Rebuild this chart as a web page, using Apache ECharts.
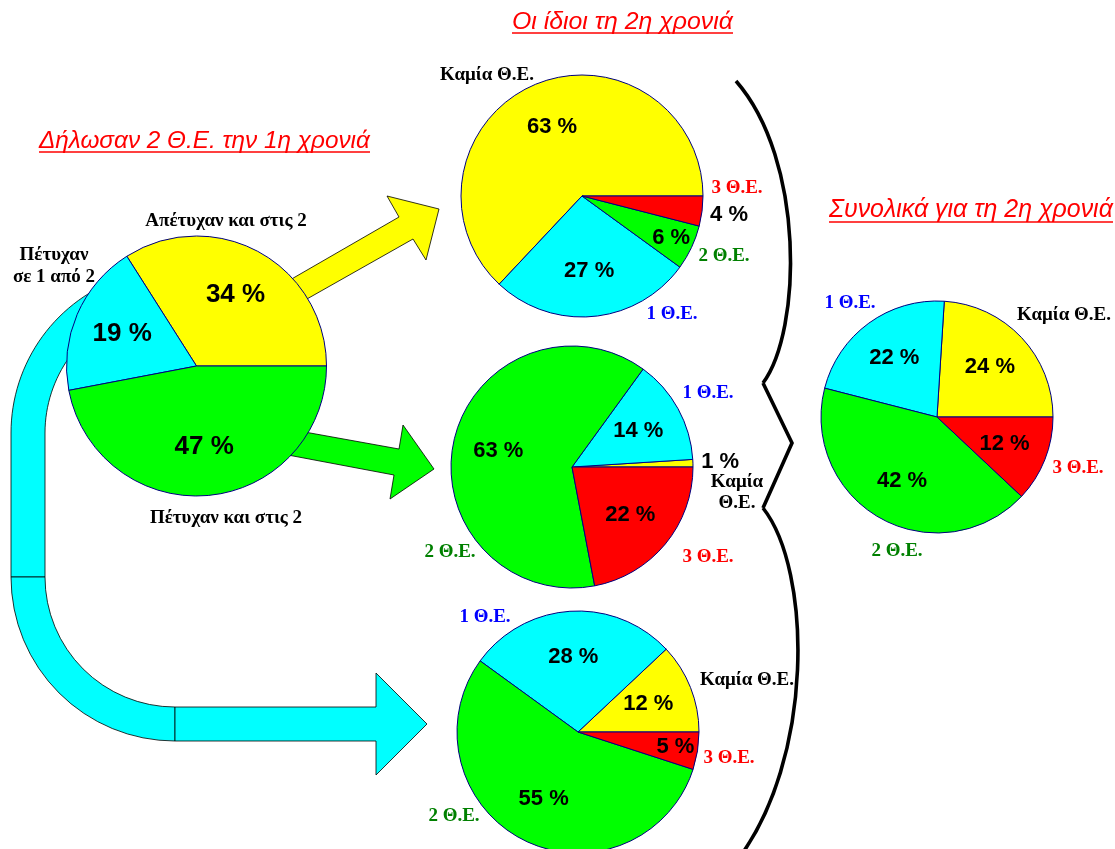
<!DOCTYPE html>
<html><head><meta charset="utf-8">
<script src="https://cdn.jsdelivr.net/npm/echarts/dist/echarts.min.js"></script>
<style>html,body{margin:0;padding:0;background:#fff}#chart{width:1115px;height:849px}</style>
</head><body><div id="chart"></div>
<script>
// ---------- data ----------
const year1Names = ['Απέτυχαν και στις 2', 'Πέτυχαν σε 1 από 2', 'Πέτυχαν και στις 2'];
const year1Values = [34, 19, 47];
const outcomeNames = ['Καμία Θ.Ε.', '1 Θ.Ε.', '2 Θ.Ε.', '3 Θ.Ε.'];
const failedBothValues = [63, 27, 6, 4];     // Απέτυχαν και στις 2 -> 2η χρονιά
const passedBothValues = [1, 14, 63, 22];    // Πέτυχαν και στις 2 -> 2η χρονιά
const passedOneValues = [12, 28, 55, 5];     // Πέτυχαν σε 1 από 2 -> 2η χρονιά
const totalYear2Values = [24, 22, 42, 12];   // Συνολικά για τη 2η χρονιά
const titleTexts = ['Οι ίδιοι τη 2η χρονιά', 'Δήλωσαν 2 Θ.Ε. την 1η χρονιά', 'Συνολικά για τη 2η χρονιά'];

// ---------- styling / layout ----------
const SLICE_COLORS = ['#FFFF00', '#00FFFF', '#00FF00', '#FF0000'];
const NAME_COLORS = ['#000000', '#0000FF', '#008000', '#FF0000'];
const SANS = '"Liberation Sans", Arial, sans-serif';
const SERIF = '"Liberation Serif", "Times New Roman", serif';

function pieSeries(names, values, colors, center, r, fontSize, placement) {
  const base = {
    type: 'pie', center: center, startAngle: 0, clockwise: false, silent: true,
    animation: false, avoidLabelOverlap: false, emphasis: { disabled: true },
    labelLine: { show: false }, minShowLabelAngle: 0
  };
  const list = [Object.assign({}, base, {
    z: 3, radius: [0, r], label: { show: false },
    data: names.map((n, i) => ({ name: n, value: values[i],
      itemStyle: { color: colors[i], borderColor: '#000080', borderWidth: 1 } }))
  })];
  const rings = { inner: [0.2 * r, r], rim: [0.58 * r, r], outer: [r, 1.4 * r] };
  Object.keys(rings).forEach(k => {
    list.push(Object.assign({}, base, {
      z: 6, radius: rings[k],
      itemStyle: { color: 'rgba(0,0,0,0)', borderWidth: 0 },
      label: { show: true, position: 'inside', formatter: '{c} %', fontFamily: SANS,
               fontWeight: 'bold', fontSize: fontSize, color: '#000' },
      data: names.map((n, i) => ({ name: n, value: values[i],
        label: { show: (placement[i] || 'inner') === k } }))
    }));
  });
  return list;
}

const series = [].concat(
  pieSeries(year1Names, year1Values, ['#FFFF00', '#00FFFF', '#00FF00'], [196.5, 366], 130, 26, {}),
  pieSeries(outcomeNames, failedBothValues, SLICE_COLORS, [582, 196], 121, 22, { 2: 'rim', 3: 'outer' }),
  pieSeries(outcomeNames, passedBothValues, SLICE_COLORS, [572, 467], 121, 22, { 0: 'outer' }),
  pieSeries(outcomeNames, passedOneValues, SLICE_COLORS, [578, 732], 121, 22, { 3: 'rim' }),
  pieSeries(outcomeNames, totalYear2Values, SLICE_COLORS, [937, 417], 116, 22, {})
);

// ---------- annotations ----------
function nameText(text, x, y, color) {
  return { type: 'text', x: x, y: y, z: 20, silent: true,
    style: { text: text, fill: color, font: 'bold 19px ' + SERIF, align: 'center',
             verticalAlign: 'middle', lineHeight: 21 } };
}
const measureCtx = document.createElement('canvas').getContext('2d');
function titleEls(text, left, cy, width, underY) {
  measureCtx.font = 'italic 22px "Liberation Sans"';
  const fs = 22 * width / measureCtx.measureText(text).width;
  return [
    { type: 'text', x: left, y: cy, z: 20, silent: true,
      style: { text: text, fill: '#FF0000', font: 'italic ' + fs.toFixed(2) + 'px ' + SANS,
               align: 'left', verticalAlign: 'middle' } },
    { type: 'line', z: 20, silent: true, shape: { x1: left, y1: underY, x2: left + width, y2: underY },
      style: { stroke: '#FF0000', lineWidth: 1.6 } }
  ];
}
const cat = outcomeNames;
const nameLabels = [
  nameText(year1Names[0], 226, 221, '#000'),
  { type: 'text', x: 54, y: 266, z: 20, silent: true,
    style: { text: 'Πέτυχαν\nσε 1 από 2', fill: '#000', font: 'bold 19px ' + SERIF, align: 'center',
             verticalAlign: 'middle', lineHeight: 22 } },
  nameText(year1Names[2], 226, 518, '#000'),
  // pie 2
  nameText(cat[0], 487, 75, NAME_COLORS[0]),
  nameText(cat[3], 737, 188, NAME_COLORS[3]),
  nameText(cat[2], 724, 256, NAME_COLORS[2]),
  nameText(cat[1], 672, 314, NAME_COLORS[1]),
  // pie 3
  nameText(cat[1], 708, 393, NAME_COLORS[1]),
  nameText('Καμία\nΘ.Ε.', 737, 493, NAME_COLORS[0]),
  nameText(cat[2], 450, 552, NAME_COLORS[2]),
  nameText(cat[3], 708, 557, NAME_COLORS[3]),
  // pie 4
  nameText(cat[1], 485, 617, NAME_COLORS[1]),
  nameText(cat[0], 747, 680, NAME_COLORS[0]),
  nameText(cat[3], 729, 758, NAME_COLORS[3]),
  nameText(cat[2], 454, 816, NAME_COLORS[2]),
  // pie 5
  nameText(cat[1], 850, 303, NAME_COLORS[1]),
  nameText(cat[0], 1064, 315, NAME_COLORS[0]),
  nameText(cat[3], 1078, 468, NAME_COLORS[3]),
  nameText(cat[2], 897, 551, NAME_COLORS[2])
];

// upper bend of the cyan arrow + vertical part as one outline (no seam)
function upperBend(cx, cy, r0, r, yBottom) {
  const pts = [];
  const N = 40;
  for (let i = 0; i <= N; i++) {           // outer edge: top -> left
    const a = Math.PI * 1.5 - (Math.PI / 2) * i / N;
    pts.push([cx + r * Math.cos(a), cy + r * Math.sin(a)]);
  }
  pts.push([cx - r, yBottom], [cx - r0, yBottom]);
  for (let i = 0; i <= N; i++) {           // inner edge: left -> top
    const a = Math.PI + (Math.PI / 2) * i / N;
    pts.push([cx + r0 * Math.cos(a), cy + r0 * Math.sin(a)]);
  }
  return pts;
}

const arrowStroke = { stroke: '#000', lineWidth: 0.8 };
const arrows = [
  // yellow arrow
  { type: 'polygon', z: 1, silent: true,
    shape: { points: [[276, 288], [399, 217], [387, 196], [439, 209], [426, 260], [413, 239], [291, 308]] },
    style: Object.assign({ fill: '#FFFF00' }, arrowStroke) },
  // green arrow
  { type: 'polygon', z: 1, silent: true,
    shape: { points: [[288, 429], [399, 449], [403, 425], [434, 469], [390, 499], [394, 475], [272, 452]] },
    style: Object.assign({ fill: '#00FF00' }, arrowStroke) },
  // cyan bent arrow
  { type: 'polygon', z: 1, silent: true,
    shape: { points: upperBend(175, 433, 130, 164, 577) },
    style: Object.assign({ fill: '#00FFFF' }, arrowStroke) },
  { type: 'sector', z: 1, silent: true,
    shape: { cx: 175, cy: 577, r0: 130, r: 164, startAngle: Math.PI / 2, endAngle: Math.PI, clockwise: true },
    style: Object.assign({ fill: '#00FFFF' }, arrowStroke) },
  { type: 'polygon', z: 1, silent: true,
    shape: { points: [[175, 707], [376, 707], [376, 673], [427, 724], [376, 775], [376, 741], [175, 741]] },
    style: Object.assign({ fill: '#00FFFF' }, arrowStroke) }
];

const braceStyle = { stroke: '#000', lineWidth: 3.6, fill: null, lineJoin: 'miter' };
const brace = [
  { type: 'bezierCurve', z: 1, silent: true,
    shape: { x1: 736, y1: 81, cpx1: 805, cpy1: 160, cpx2: 802, cpy2: 330, x2: 763, y2: 383 }, style: braceStyle },
  { type: 'polyline', z: 1, silent: true, shape: { points: [[763, 383], [792, 443], [763, 508]] }, style: braceStyle },
  { type: 'bezierCurve', z: 1, silent: true,
    shape: { x1: 763, y1: 508, cpx1: 812, cpy1: 570, cpx2: 815, cpy2: 760, x2: 736, y2: 862 }, style: braceStyle }
];

const titles = [].concat(
  titleEls(titleTexts[0], 512, 22, 221, 33),
  titleEls(titleTexts[1], 39, 141, 331, 152),
  titleEls(titleTexts[2], 829, 210, 284, 222)
);

const chart = echarts.init(document.getElementById('chart'), null, { renderer: 'canvas' });
chart.setOption({
  backgroundColor: '#ffffff',
  animation: false,
  series: series,
  graphic: { elements: [].concat(arrows, brace, titles, nameLabels) }
});
</script>
</body></html>
